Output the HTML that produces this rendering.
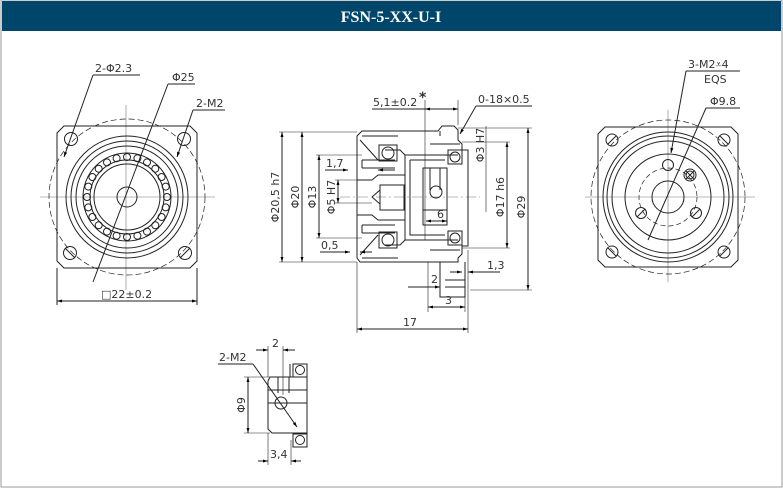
<!DOCTYPE html>
<html><head><meta charset="utf-8"><style>
html,body{margin:0;padding:0;background:#fff}
svg{display:block}
text{font-family:"DejaVu Sans","Liberation Sans",sans-serif;font-size:11px;fill:#333}
</style></head><body>
<svg width="783" height="488" viewBox="0 0 783 488" xmlns="http://www.w3.org/2000/svg">
<defs>
<marker id="a" viewBox="0 0 10 10" refX="10" refY="5" markerWidth="7" markerHeight="5" orient="auto-start-reverse"><path d="M0,2 L10,5 L0,8z" fill="#000"/></marker>
</defs>
<rect x="0" y="0" width="783" height="488" fill="#fff"/>
<rect x="1" y="0" width="781" height="487" fill="none" stroke="#999" stroke-width="1"/>
<rect x="2" y="1" width="779" height="30" fill="#00466b"/>
<text x="391" y="22" text-anchor="middle" style="font-family:'Liberation Serif',serif;font-weight:bold;font-size:16px;fill:#fff">FSN-5-XX-U-I</text>

<g stroke="#222" stroke-width="1" fill="none">
<!-- LEFT VIEW -->
<line x1="126" y1="105" x2="126" y2="290" stroke="#777" stroke-width=".6"/>
<line x1="40" y1="197" x2="215" y2="197" stroke="#777" stroke-width=".6"/>
<circle cx="127" cy="197" r="78" stroke-dasharray="6 3" stroke-width=".7"/>
<path d="M64,126 H190 L197,133 V261 L190,268 H64 L57,261 V133 Z"/>
<circle cx="127" cy="197" r="61"/>
<circle cx="127" cy="197" r="56"/>
<circle cx="127" cy="197" r="51"/>
<circle cx="127" cy="197" r="44"/>
<circle cx="127" cy="197" r="37"/>
<circle cx="127" cy="197" r="33"/>
<circle cx="127" cy="197" r="10"/>
<g>
<circle cx="167" cy="197" r="3.5"/><circle cx="165.7" cy="207.4" r="3.5"/><circle cx="161.6" cy="217" r="3.5"/><circle cx="155.3" cy="225.3" r="3.5"/><circle cx="147" cy="231.6" r="3.5"/><circle cx="137.4" cy="235.7" r="3.5"/><circle cx="127" cy="237" r="3.5"/><circle cx="116.6" cy="235.7" r="3.5"/><circle cx="107" cy="231.6" r="3.5"/><circle cx="98.7" cy="225.3" r="3.5"/><circle cx="92.4" cy="217" r="3.5"/><circle cx="88.3" cy="207.4" r="3.5"/><circle cx="87" cy="197" r="3.5"/><circle cx="88.3" cy="186.6" r="3.5"/><circle cx="92.4" cy="177" r="3.5"/><circle cx="98.7" cy="168.7" r="3.5"/><circle cx="107" cy="162.4" r="3.5"/><circle cx="116.6" cy="158.3" r="3.5"/><circle cx="127" cy="157" r="3.5"/><circle cx="137.4" cy="158.3" r="3.5"/><circle cx="147" cy="162.4" r="3.5"/><circle cx="155.3" cy="168.7" r="3.5"/><circle cx="161.6" cy="177" r="3.5"/><circle cx="165.7" cy="186.6" r="3.5"/>
</g>
<circle cx="71" cy="139" r="6.5"/><circle cx="184" cy="139" r="6.5"/>
<circle cx="70" cy="253" r="6.5"/><line x1="65" y1="248" x2="75" y2="258"/>
<circle cx="185" cy="253" r="6.5"/><line x1="180" y1="258" x2="190" y2="248"/>
<line x1="93" y1="75" x2="140" y2="75"/><line x1="93" y1="75" x2="64" y2="157" marker-end="url(#a)"/>
<line x1="168" y1="84" x2="195" y2="84"/><line x1="168" y1="84" x2="93" y2="282"/>
<line x1="193" y1="110" x2="225" y2="110"/><line x1="193" y1="110" x2="177" y2="157" marker-end="url(#a)"/>
<line x1="57" y1="268" x2="57" y2="305"/><line x1="197" y1="268" x2="197" y2="305"/>
<line x1="57" y1="301" x2="197" y2="301" marker-start="url(#a)" marker-end="url(#a)"/>

<!-- MIDDLE VIEW -->
<line x1="340" y1="197" x2="480" y2="197" stroke="#777" stroke-width=".6" stroke-dasharray="10 3 2 3"/>
<path d="M357,136 L362,131 H438 L442,126 H454 L458,130 V140 L462,144 V150 H468 V246 H462 V254 L458,258 V262 H360 L357,258 Z"/>
<path d="M362,136 H398 M362,258 H398 M440,131 V136 M430,144 H460 M430,250 H460"/>
<path d="M405,155 H458 M405,155 V240 H458 M405,155 L400,150 H385 M405,240 L400,245 H385"/>
<path d="M410,160 H445 M410,160 V235 H445"/>
<path d="M423,168 H447 V225 H423 Z M423,210 H447 M430,168 V190 M440,168 V190"/>
<circle cx="436" cy="192" r="6"/>
<path d="M357,180 H372 L378,175 H405 M357,215 H372 L378,220 H405"/>
<path d="M380,185 H404 V210 H380 Z M372,197 L380,190 M372,197 L380,204"/>
<path d="M362,160 H395 M362,168 H395 M362,225 H395 M362,233 H395 M362,160 V168 M362,225 V233"/>
<path d="M360,140 L378,160 M360,255 L378,235"/>
<circle cx="388" cy="153" r="6"/><rect x="379" y="145" width="18" height="16"/>
<circle cx="388" cy="240" r="6"/><rect x="379" y="232" width="18" height="16"/>
<circle cx="455" cy="157" r="5"/><rect x="448" y="150" width="14" height="14"/>
<circle cx="455" cy="238" r="5"/><rect x="448" y="231" width="14" height="14"/>
<path d="M440,262 V297 H465 V262 M445,280 H465 M445,287 H465"/>
<line x1="357" y1="132" x2="279" y2="132" stroke-width=".6"/><line x1="357" y1="262" x2="279" y2="262" stroke-width=".6"/>
<line x1="282" y1="132" x2="282" y2="262" marker-start="url(#a)" marker-end="url(#a)"/>
<line x1="302" y1="132" x2="302" y2="262" marker-start="url(#a)" marker-end="url(#a)"/>
<line x1="316" y1="155" x2="362" y2="155" stroke-width=".6"/><line x1="316" y1="238" x2="362" y2="238" stroke-width=".6"/>
<line x1="319" y1="155" x2="319" y2="238" marker-start="url(#a)" marker-end="url(#a)"/>
<line x1="335" y1="180" x2="372" y2="180" stroke-width=".6"/><line x1="335" y1="203" x2="372" y2="203" stroke-width=".6"/>
<line x1="338" y1="180" x2="338" y2="203" marker-start="url(#a)" marker-end="url(#a)"/>
<line x1="325" y1="170" x2="348" y2="170" marker-end="url(#a)"/><line x1="395" y1="170" x2="378" y2="170" marker-end="url(#a)"/>
<line x1="320" y1="252" x2="350" y2="252" marker-end="url(#a)"/><line x1="372" y1="252" x2="360" y2="252" marker-end="url(#a)"/>
<line x1="425" y1="100" x2="425" y2="240" stroke-width=".6"/><line x1="458" y1="100" x2="458" y2="125" stroke-width=".6"/>
<line x1="372" y1="109" x2="425" y2="109"/><line x1="425" y1="109" x2="458" y2="109" marker-start="url(#a)" marker-end="url(#a)"/>
<line x1="476" y1="106" x2="532" y2="106"/><line x1="476" y1="106" x2="460" y2="134" marker-end="url(#a)"/>
<line x1="462" y1="142" x2="510" y2="142" stroke-width=".6"/><line x1="462" y1="248" x2="510" y2="248" stroke-width=".6"/>
<line x1="507" y1="142" x2="507" y2="248" marker-start="url(#a)" marker-end="url(#a)"/>
<line x1="486" y1="126" x2="486" y2="212" stroke-width=".6"/>
<line x1="458" y1="128" x2="532" y2="128" stroke-width=".6"/><line x1="470" y1="290" x2="532" y2="290" stroke-width=".6"/>
<line x1="528" y1="128" x2="528" y2="290" marker-start="url(#a)" marker-end="url(#a)"/>
<line x1="426" y1="221" x2="447" y2="221" marker-start="url(#a)" marker-end="url(#a)"/>
<line x1="450" y1="272" x2="462" y2="272" marker-end="url(#a)"/><line x1="500" y1="272" x2="468" y2="272" marker-end="url(#a)"/>
<line x1="408" y1="287" x2="440" y2="287" marker-end="url(#a)"/>
<line x1="428" y1="262" x2="428" y2="312" stroke-width=".6"/><line x1="465" y1="297" x2="465" y2="312" stroke-width=".6"/>
<line x1="428" y1="307" x2="465" y2="307" marker-start="url(#a)" marker-end="url(#a)"/>
<line x1="357" y1="262" x2="357" y2="333" stroke-width=".6"/><line x1="468" y1="250" x2="468" y2="333" stroke-width=".6"/>
<line x1="357" y1="329" x2="468" y2="329" marker-start="url(#a)" marker-end="url(#a)"/>

<!-- RIGHT VIEW -->
<line x1="668" y1="110" x2="668" y2="282" stroke="#777" stroke-width=".6"/>
<line x1="585" y1="197" x2="755" y2="197" stroke="#777" stroke-width=".6"/>
<circle cx="668" cy="197" r="77" stroke-dasharray="6 3" stroke-width=".7"/>
<path d="M605,127 H731 L738,134 V260 L731,267 H605 L598,260 V134 Z"/>
<circle cx="668" cy="197" r="65"/><circle cx="668" cy="197" r="61"/><circle cx="668" cy="197" r="56"/>
<circle cx="668" cy="197" r="43"/>
<circle cx="668" cy="197" r="29" stroke-dasharray="5 3" stroke-width=".7"/>
<circle cx="668" cy="197" r="16"/>
<circle cx="668" cy="165" r="5.5"/><circle cx="641" cy="213" r="5.5"/><line x1="637" y1="217" x2="645" y2="209"/>
<circle cx="696" cy="213" r="5.5"/><line x1="692" y1="217" x2="700" y2="209"/>
<circle cx="690" cy="175" r="6"/><circle cx="690" cy="175" r="4"/><line x1="686" y1="171" x2="694" y2="179"/><line x1="686" y1="179" x2="694" y2="171"/>
<circle cx="612" cy="140" r="6"/><line x1="608" y1="144" x2="616" y2="136"/>
<circle cx="724" cy="140" r="6"/><line x1="720" y1="136" x2="728" y2="144"/>
<circle cx="612" cy="252" r="6"/><line x1="608" y1="248" x2="616" y2="256"/>
<circle cx="724" cy="252" r="6"/><line x1="720" y1="256" x2="728" y2="248"/>
<line x1="686" y1="71" x2="740" y2="71"/><line x1="686" y1="71" x2="671" y2="153" marker-end="url(#a)"/>
<line x1="706" y1="108" x2="740" y2="108"/><line x1="706" y1="108" x2="648" y2="240"/>

<!-- BOTTOM SMALL VIEW -->
<path d="M270,377 H307 V433 H272 L268,429 V381 Z"/>
<path d="M278,377 V393 M289,377 V393 M268,390 H307 M268,403 H307"/>
<circle cx="281" cy="403" r="6"/>
<rect x="293" y="364" width="14" height="13"/><circle cx="300" cy="370" r="4.5"/><line x1="290" y1="377" x2="290" y2="364"/>
<rect x="293" y="434" width="14" height="13"/><circle cx="300" cy="440" r="4.5"/>
<line x1="218" y1="364" x2="253" y2="364"/><line x1="253" y1="364" x2="297" y2="427" marker-end="url(#a)"/>
<line x1="268" y1="346" x2="268" y2="377" stroke-width=".6"/><line x1="283" y1="346" x2="283" y2="395" stroke-width=".6"/>
<line x1="256" y1="350" x2="268" y2="350" marker-end="url(#a)"/><line x1="295" y1="350" x2="283" y2="350" marker-end="url(#a)"/>
<line x1="244" y1="377" x2="270" y2="377" stroke-width=".6"/><line x1="244" y1="433" x2="270" y2="433" stroke-width=".6"/>
<line x1="248" y1="377" x2="248" y2="433" marker-start="url(#a)" marker-end="url(#a)"/>
<line x1="268" y1="433" x2="268" y2="465" stroke-width=".6"/><line x1="291" y1="440" x2="291" y2="465" stroke-width=".6"/>
<line x1="258" y1="461" x2="268" y2="461" marker-end="url(#a)"/><line x1="301" y1="461" x2="291" y2="461" marker-end="url(#a)"/>
</g>

<text x="95" y="72">2-Φ2.3</text>
<text x="172" y="81">Φ25</text>
<text x="196" y="107">2-M2</text>
<text x="101" y="298">□22±0.2</text>
<text x="373" y="106">5,1±0.2</text><text x="419" y="102" style="font-size:14px;font-weight:bold">*</text>
<text x="478" y="103">0-18×0.5</text>
<text x="326" y="167">1,7</text>
<text x="321" y="249">0,5</text>
<text x="437" y="218">6</text>
<text x="487" y="269">1,3</text>
<text x="431" y="283">2</text>
<text x="445" y="304">3</text>
<text x="403" y="326">17</text>
<text transform="translate(279,197) rotate(-90)" text-anchor="middle">Φ20,5 h7</text>
<text transform="translate(299,197) rotate(-90)" text-anchor="middle">Φ20</text>
<text transform="translate(316,197) rotate(-90)" text-anchor="middle">Φ13</text>
<text transform="translate(335,197) rotate(-90)" text-anchor="middle">Φ5 H7</text>
<text transform="translate(484,145) rotate(-90)" text-anchor="middle">Φ3 H7</text>
<text transform="translate(504,197) rotate(-90)" text-anchor="middle">Φ17 h6</text>
<text transform="translate(525,207) rotate(-90)" text-anchor="middle">Φ29</text>
<text x="688" y="68">3-M2⩡4</text>
<text x="704" y="83">EQS</text>
<text x="710" y="105">Φ9.8</text>
<text x="219" y="361">2-M2</text>
<text x="272" y="347">2</text>
<text transform="translate(245,405) rotate(-90)" text-anchor="middle">Φ9</text>
<text x="270" y="458">3,4</text>
</svg>
</body></html>
